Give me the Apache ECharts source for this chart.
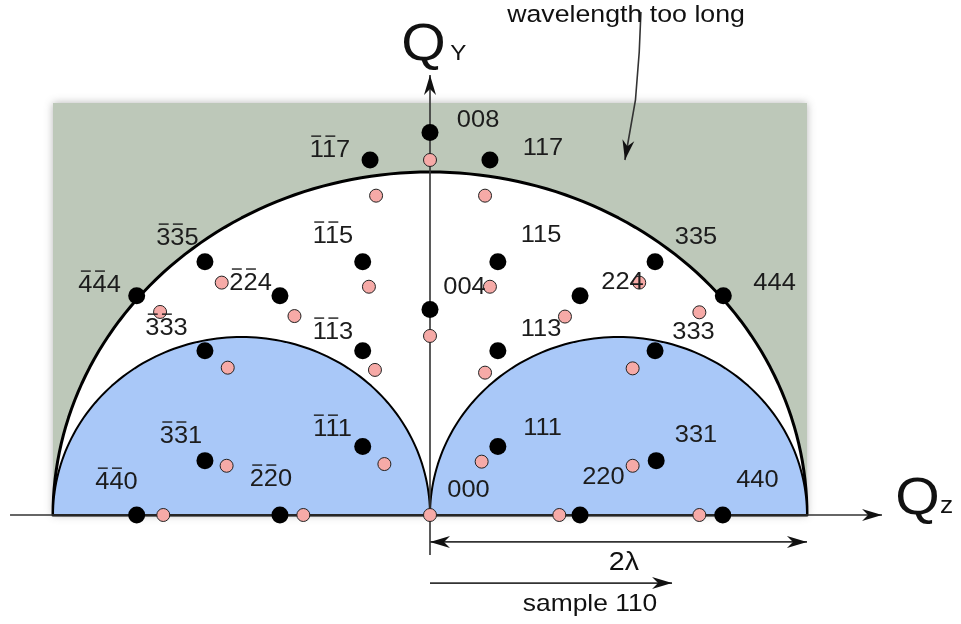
<!DOCTYPE html>
<html><head><meta charset="utf-8">
<script src="https://cdn.jsdelivr.net/npm/echarts@6/dist/echarts.min.js"></script>
<style>html,body{margin:0;padding:0;background:#fff}#c{width:961px;height:624px}</style>
</head><body><div id="c"></div>
<script>
// ---- geometry / data (units: lambda) ----
const shadedRegion = [[-2, 0, 2, 2.402]];            // x0, y0, x1, y1  ("wavelength too long")
const ewaldCircle = [[0, 2, 2]];                      // cx, rx, ry
const limitCircles = [[-1, 1, 1.038], [1, 1, 1.038]]; // cx, rx, ry
const blackPoints = [
  [0,2.23],[-0.318,2.07],[0.318,2.07],[-1.194,1.477],[1.194,1.477],[-0.357,1.477],[0.36,1.477],
  [-1.556,1.279],[1.556,1.279],[-0.796,1.279],[0.796,1.279],[0,1.198],
  [-1.194,0.958],[1.194,0.958],[-0.357,0.958],[0.36,0.958],
  [-0.357,0.40],[0.36,0.40],[-1.194,0.317],[1.2,0.317],
  [-1.556,0],[1.553,0],[-0.796,0],[0.796,0]
];
const pinkPoints = [
  [0,2.07],[-0.286,1.862],[0.292,1.862],[-0.324,1.331],[0.318,1.331],[-1.105,1.355],[1.110,1.355],
  [-1.432,1.184],[1.429,1.182],[-0.719,1.160],[0.716,1.157],[0,1.044],
  [-1.073,0.859],[1.075,0.855],[-0.292,0.846],[0.292,0.830],
  [-0.242,0.297],[0.274,0.311],[-1.079,0.287],[1.075,0.287],
  [-1.415,0],[1.429,0],[-0.672,0],[0.686,0],[0,0]
];
// hkl labels: x, y, index ("-" = bar over next digit)
const hklLabels = [
  [0.255,2.30,'008'],[-0.531,2.128,'-1-17'],[0.599,2.140,'117'],
  [-1.340,1.615,'-3-35'],[1.411,1.621,'335'],[-0.515,1.627,'-1-15'],[0.589,1.633,'115'],
  [-1.753,1.341,'-4-44'],[1.828,1.353,'444'],[-0.952,1.353,'-2-24'],[1.021,1.359,'224'],[0.183,1.329,'004'],
  [-1.398,1.090,'-3-33'],[1.398,1.067,'333'],[-0.515,1.067,'-1-13'],[0.589,1.085,'113'],
  [-0.517,0.501,'-1-11'],[0.597,0.507,'111'],[-1.321,0.461,'-3-31'],[1.411,0.466,'331'],
  [-1.663,0.192,'-4-40'],[1.737,0.204,'440'],[-0.844,0.210,'-2-20'],[0.920,0.222,'220'],[0.204,0.146,'000']
];
// annotation lines: points, arrow at start, arrow at end
const arrowLines = [
  [[[-2.228,0],[2.398,0]], 0, 1],
  [[[0,0],[0,2.566]], 0, 1],
  [[[0,-0.157],[2,-0.157]], 1, 1],
  [[[0,0],[0,-0.233]], 0, 0],
  [[[0,-0.397],[1.284,-0.397]], 0, 1],
  [[[1.119,2.933],[1.110,2.70],[1.090,2.42],[1.034,2.070]], 0, 1]
];
// free texts: x, y, text, size
const freeTexts = [
  [-0.034,2.735,'Q',52],[0.150,2.690,'Y',22],
  [2.586,0.087,'Q',52],[2.740,0.052,'z',24],
  [1.029,-0.280,'2λ',26],[0.849,-0.519,'sample 110',24],
  [1.040,2.915,'wavelength too long',24.3]
];

// ---- rendering ----
const FONT = "'Liberation Sans', Arial, Helvetica, sans-serif";
const SX = 1.06;
const chart = echarts.init(document.getElementById('c'), null, {renderer:'canvas'});

function arrowHead(tip, from, len, hw, notch) {
  const dx = tip[0]-from[0], dy = tip[1]-from[1];
  const L = Math.hypot(dx,dy), ux = dx/L, uy = dy/L, nx = -uy, ny = ux;
  const bx = tip[0]-ux*len, by = tip[1]-uy*len;
  return [[tip[0],tip[1]],[bx+nx*hw,by+ny*hw],[tip[0]-ux*(len-notch),tip[1]-uy*(len-notch)],[bx-nx*hw,by-ny*hw]];
}
function halfEllipse(src, fill, lw) {
  return function(params, api) {
    const d = src[params.dataIndex];
    const pts = [];
    for (let i = 0; i <= 120; i++) {
      const t = Math.PI * i / 120;
      pts.push(api.coord([d[0] + d[1]*Math.cos(t), d[2]*Math.sin(t)]));
    }
    return {type:'polygon', shape:{points:pts}, style:{fill:fill, stroke:'#000', lineWidth:lw, lineJoin:'round'}};
  };
}
const xy = a => a.map(p => [p[0], p[1]]);

const option = {
  animation: false,
  grid: {left: 0, top: 0, right: 0, bottom: 0, outerBoundsMode: 'none', containLabel: false},
  xAxis: {type:'value', min:-2.2812, max:2.8170, show:false},
  yAxis: {type:'value', min:-0.6356, max:3.0029, show:false},
  series: [
    {type:'custom', z:1, data: shadedRegion.map(r => [r[0], r[1]]),
     renderItem: (params, api) => {
       const r = shadedRegion[params.dataIndex];
       const p0 = api.coord([r[0], r[3]]), p1 = api.coord([r[2], r[1]]);
       return {type:'rect', shape:{x:p0[0], y:p0[1], width:p1[0]-p0[0], height:p1[1]-p0[1]},
               style:{fill:'#bdc8b9', shadowBlur:8, shadowColor:'rgba(90,90,90,0.45)'}};
     }},
    {type:'custom', z:2, data: ewaldCircle.map(c => [c[0], 0]), renderItem: halfEllipse(ewaldCircle, '#ffffff', 3)},
    {type:'custom', z:3, data: limitCircles.map(c => [c[0], 0]), renderItem: halfEllipse(limitCircles, '#a9c8f8', 2)},
    {type:'custom', z:4, data: arrowLines.map(l => l[0][0]),
     renderItem: (params, api) => {
       const l = arrowLines[params.dataIndex];
       const pts = l[0].map(p => api.coord(p));
       const children = [{type:'polyline', shape:{points:pts}, style:{stroke:'#333', lineWidth:1.6, fill:null}}];
       const n = pts.length;
       if (l[2]) children.push({type:'polygon', shape:{points:arrowHead(pts[n-1], pts[n-2], 20, 6, 6)}, style:{fill:'#111'}});
       if (l[1]) children.push({type:'polygon', shape:{points:arrowHead(pts[0], pts[1], 20, 6, 6)}, style:{fill:'#111'}});
       return {type:'group', children};
     }},
    {type:'scatter', z:5, data: xy(blackPoints), symbol:'circle', symbolSize:17,
     itemStyle:{color:'#000', opacity:1}, silent:true},
    {type:'scatter', z:6, data: xy(pinkPoints), symbol:'circle', symbolSize:13,
     itemStyle:{color:'#f6aaa7', borderColor:'#222', borderWidth:1, opacity:1}, silent:true},
    {type:'custom', z:7, data: hklLabels.map(l => [l[0], l[1]]),
     renderItem: (params, api) => {
       const l = hklLabels[params.dataIndex];
       const p = api.coord([l[0], l[1]]);
       const size = 24;
       let digits = '', bars = [];
       for (let i = 0; i < l[2].length; i++) {
         if (l[2][i] === '-') { bars.push(digits.length); } else digits += l[2][i];
       }
       const dw = 0.556*size, w = digits.length*dw, left = -w/2;
       const children = [{type:'text', style:{text:digits, x:0, y:0, align:'center', verticalAlign:'middle',
                          font:'normal ' + size + 'px ' + FONT, fill:'#1c1c1c'}}];
       bars.forEach(i => {
         children.push({type:'line', shape:{x1:left+i*dw+dw*0.18, y1:-0.58*size, x2:left+(i+1)*dw-dw*0.12, y2:-0.58*size},
                        style:{stroke:'#1c1c1c', lineWidth:1.4}});
       });
       return {type:'group', x:p[0], y:p[1], scaleX:SX, children};
     }},
    {type:'custom', z:8, data: freeTexts.map(t => [t[0], t[1]]),
     renderItem: (params, api) => {
       const t = freeTexts[params.dataIndex];
       const p = api.coord([t[0], t[1]]);
       return {type:'text', x:p[0], y:p[1], scaleX:1.1,
               style:{text:t[2], x:0, y:0, align:'center', verticalAlign:'middle',
                      font:'normal ' + t[3] + 'px ' + FONT, fill:'#111'}};
     }}
  ]
};
chart.setOption(option);
</script></body></html>
